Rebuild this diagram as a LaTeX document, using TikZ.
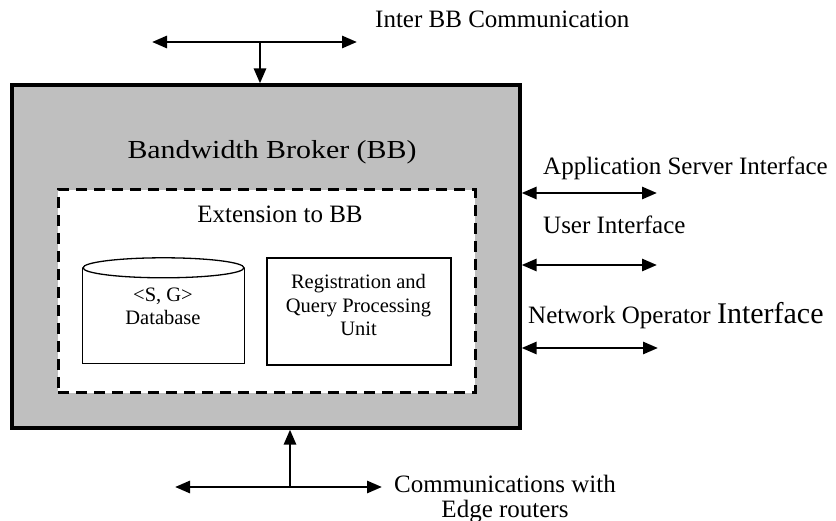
\documentclass[tikz,border=0pt]{standalone}
\usepackage{fontspec}
\setmainfont{Liberation Serif}
\usetikzlibrary{arrows.meta}
\begin{document}
\begin{tikzpicture}[x=1pt,y=-1pt,
  txt/.style={inner sep=0pt, font=\fontsize{25}{30}\selectfont},
  small/.style={inner sep=0pt, align=center, font=\fontsize{20.5}{23.5}\selectfont},
  conn/.style={line width=2.8pt, {Triangle[length=15pt,width=12pt]}-{Triangle[length=15pt,width=12pt]}},
  feed/.style={line width=2.8pt, -{Triangle[length=15pt,width=12pt]}},
  outerbox/.style={draw, line width=3.2pt, fill=black!25, inner sep=0pt},
  extbox/.style={draw, line width=3pt, fill=white, dash pattern=on 11pt off 7pt, inner sep=0pt},
  unitbox/.style={draw, line width=1.3pt, fill=white, inner sep=0pt}]
\useasboundingbox (0,0) rectangle (836,521);

% Bandwidth broker and its extension
\node[outerbox, minimum width=508pt, minimum height=343pt] (bb) at (266,256.5) {};
\node[txt, anchor=base] (bbtitle) at (272,159)
  {\scalebox{1.15}[1]{\fontsize{26}{30}\selectfont Bandwidth Broker (BB)}};
\node[extbox, minimum width=417pt, minimum height=203pt] (ext) at (266.5,291.5) {};
\node[txt, anchor=base] (exttitle) at (280,223) {Extension to BB};

% <S, G> database drawn as a cylinder
\node[minimum width=161pt, minimum height=95pt, inner sep=0pt] (db) at (163.5,315.5) {};
\filldraw[fill=white, line width=1.3pt]
  (db.north west) -- (db.south west) -- (db.south east) -- (db.north east);
\filldraw[fill=white, line width=1.3pt] (db.north) ellipse [x radius=80.5, y radius=10];
\node[small, anchor=base] (dbtext) at (163,325) {<S, G>\\Database};

% Registration and query processing unit
\node[unitbox, minimum width=184pt, minimum height=107pt] (rq) at (359,311.5) {};
\node[small, anchor=base] (rqtext) at (358.5,336) {Registration and\\Query Processing\\Unit};

% Inter BB communication
\node[txt, anchor=base west] (interlbl) at (375,28) {Inter BB Communication};
\coordinate (tl) at (152,42);
\coordinate (tr) at (357,42);
\coordinate (tm) at (260,42);
\draw[conn] (tl) -- (tr);
\draw[feed] (tm) -- (tm |- bb.north);

% Interfaces on the right side
\node[txt, anchor=base west] (applbl) at (543,175) {Application Server Interface};
\node[txt, anchor=base west] (userlbl) at (543,234) {User Interface};
\node[txt, anchor=base west] (netlbl) at (528,324)
  {Network Operator {\fontsize{30}{36}\selectfont Interface}};
\coordinate (append) at (657,193);
\coordinate (userend) at (657,265);
\coordinate (netend) at (658,348);
\draw[conn] (bb.east |- append) -- (append);
\draw[conn] (bb.east |- userend) -- (userend);
\draw[conn] (bb.east |- netend) -- (netend);

% Communications with edge routers
\coordinate (bl) at (175,487);
\coordinate (br) at (382,487);
\coordinate (bm) at (290,487);
\draw[conn] (bl) -- (br);
\draw[feed] (bm) -- (bm |- bb.south);
\node[txt, anchor=base, align=center, font=\fontsize{25}{25}\selectfont] (edgelbl) at (505,517)
  {Communications with\\Edge routers};
\end{tikzpicture}
\end{document}
